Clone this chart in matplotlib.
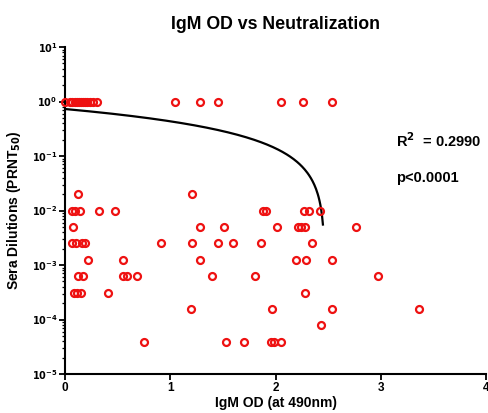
import numpy as np
import matplotlib
matplotlib.use("Agg")
import matplotlib.pyplot as plt
from matplotlib.ticker import LogLocator, FixedLocator, NullFormatter

plt.rcParams['font.family'] = ['Liberation Sans', 'DejaVu Sans']
plt.rcParams['font.weight'] = 'bold'

# Data: (IgM OD, sera dilution)
x_1 = [0.0, 0.05, 0.07, 0.09, 0.11, 0.13, 0.15, 0.17, 0.19, 0.21, 0.24, 0.27, 0.30,
       1.04, 1.28, 1.45, 2.05, 2.26, 2.54]
x_1_50 = [0.12, 1.21]
x_1_100 = [0.065, 0.095, 0.145, 0.32, 0.47, 1.88, 1.91, 2.27, 2.32, 2.42]
x_1_200 = [0.08, 1.28, 1.51, 2.01, 2.21, 2.24, 2.28, 2.76]
x_1_400 = [0.07, 0.105, 0.16, 0.19, 0.91, 1.21, 1.45, 1.60, 1.86, 2.35]
x_1_800 = [0.215, 0.55, 1.285, 2.19, 2.29, 2.54]
x_1_1600 = [0.12, 0.175, 0.555, 0.585, 0.68, 1.40, 1.80, 2.97]
x_1_3200 = [0.085, 0.11, 0.15, 0.41, 2.28]
x_1_6400 = [1.20, 1.97, 2.54, 3.36]
x_1_12800 = [2.43]
x_1_25600 = [0.75, 1.53, 1.70, 1.96, 1.99, 2.05]

groups = [
    (1.0, x_1), (1/50, x_1_50), (1/100, x_1_100), (1/200, x_1_200), (1/400, x_1_400),
    (1/800, x_1_800), (1/1600, x_1_1600), (1/3200, x_1_3200), (1/6400, x_1_6400),
    (1/12800, x_1_12800), (1/25600, x_1_25600),
]
od = np.concatenate([np.array(xs, float) for _, xs in groups])
dil = np.concatenate([np.full(len(xs), d) for d, xs in groups])

# Linear fit line (as shown)
fit_intercept = 0.73
fit_slope = -0.2957
fit_xmax = 2.45

x_ticks = [0, 1, 2, 3, 4]
y_tick_exps = [1, 0, -1, -2, -3, -4, -5]

fig = plt.figure(figsize=(4.89, 4.13), dpi=100)
ax = fig.add_axes([0.133, 0.0944, 0.861, 0.7916])

ax.plot(od, dil, linestyle='none', marker='o', markersize=5.0,
        markerfacecolor='none', markeredgecolor='#ee1111', markeredgewidth=1.6,
        clip_on=False, zorder=3)

xf = np.linspace(0, fit_xmax, 300)
ax.plot(xf, fit_intercept + fit_slope * xf, color='black', lw=1.6, zorder=2)

ax.set_yscale('log')
ax.set_xlim(0, 4)
ax.set_ylim(1e-5, 1e1)
ax.xaxis.set_major_locator(FixedLocator(x_ticks))
ax.set_xticklabels([str(t) for t in x_ticks], fontsize=8.5, fontweight='bold')
ax.yaxis.set_major_locator(FixedLocator([10.0**e for e in y_tick_exps]))
ax.set_yticklabels([r'$\mathbf{10^{%d}}$' % e for e in y_tick_exps], fontsize=7)
ax.yaxis.set_minor_locator(LogLocator(base=10, subs=np.arange(2, 10), numticks=20))
ax.yaxis.set_minor_formatter(NullFormatter())

for s in ['top', 'right']:
    ax.spines[s].set_visible(False)
for s in ['left', 'bottom']:
    ax.spines[s].set_linewidth(1.5)
ax.tick_params(axis='both', which='major', direction='out', length=4, width=1.3, pad=1.5)
ax.tick_params(axis='y', which='minor', direction='out', length=2.2, width=0.9)

ax.set_title('IgM OD vs Neutralization', fontsize=12.8, fontweight='bold', pad=13)
ax.set_xlabel('IgM OD (at 490nm)', fontsize=10, fontweight='bold', labelpad=2)
ax.set_ylabel(r'Sera Dilutions (PRNT$_{\mathbf{50}}$)', fontsize=10, fontweight='bold', labelpad=6)

fig.text(396/489, 1 - 141/413, r'R$^{\mathbf{2}}$  = 0.2990', fontsize=10.5, fontweight='bold', va='center')
fig.text(396/489, 1 - 178/413, 'p<0.0001', fontsize=10.5, fontweight='bold', va='center')

fig.savefig('out.png', dpi=100)
